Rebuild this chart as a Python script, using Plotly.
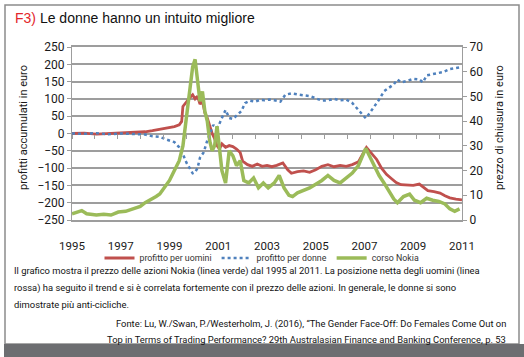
import plotly.graph_objects as go

# ---------------- data ----------------
years_men = [1995.0, 1995.5, 1996.0, 1996.5, 1997.0, 1997.5, 1998.0, 1998.3, 1998.6, 1998.9,
             1999.2, 1999.4, 1999.5, 1999.55, 1999.65, 1999.75, 1999.85, 1999.95, 2000.05, 2000.15,
             2000.25, 2000.35, 2000.45, 2000.55, 2000.65, 2000.75, 2000.85, 2000.95, 2001.05, 2001.15,
             2001.3, 2001.45, 2001.6, 2001.75, 2001.9, 2002.0, 2002.2, 2002.4, 2002.6, 2002.8,
             2003.0, 2003.2, 2003.4, 2003.65, 2003.85, 2004.0, 2004.25, 2004.5, 2004.75, 2005.0,
             2005.25, 2005.5, 2005.75, 2006.0, 2006.25, 2006.5, 2006.75, 2006.9, 2007.0, 2007.08,
             2007.2, 2007.35, 2007.5, 2007.7, 2007.9, 2008.1, 2008.3, 2008.5, 2008.75, 2009.0,
             2009.25, 2009.4, 2009.6, 2009.85, 2010.1, 2010.3, 2010.5, 2010.75, 2011.0]
profit_men = [0, 1, -2, 0, 1, 2, 5, 8, 12, 15,
              20, 25, 35, 78, 88, 95, 105, 112, 100, 108,
              85, 95, 60, 45, 20, 0, -15, -35, -45, -30,
              -40, -35, -38, -45, -55, -80, -90, -95, -88, -95,
              -92, -96, -92, -85, -105, -115, -110, -108, -112, -105,
              -95, -90, -96, -92, -95, -90, -82, -65, -50, -40,
              -50, -62, -75, -100, -118, -130, -142, -148, -150, -150,
              -146, -155, -165, -168, -172, -180, -186, -190, -192]

years_women = [1995.0, 1995.5, 1996.0, 1996.5, 1997.0, 1997.5, 1998.0, 1998.3, 1998.6, 1998.9,
               1999.2, 1999.4, 1999.55, 1999.7, 1999.85, 1999.95, 2000.05, 2000.15, 2000.25, 2000.4,
               2000.55, 2000.7, 2000.8, 2000.9, 2001.0, 2001.15, 2001.3, 2001.45, 2001.6, 2001.8,
               2001.95, 2002.1, 2002.3, 2002.5, 2002.7, 2002.9, 2003.1, 2003.3, 2003.55, 2003.75,
               2004.0, 2004.25, 2004.5, 2004.75, 2005.0, 2005.25, 2005.5, 2005.75, 2006.0, 2006.25,
               2006.5, 2006.7, 2006.9, 2007.05, 2007.2, 2007.4, 2007.6, 2007.8, 2008.0, 2008.2,
               2008.35, 2008.5, 2008.75, 2009.0, 2009.25, 2009.4, 2009.55, 2009.8, 2010.0, 2010.25,
               2010.5, 2010.75, 2011.0]
profit_women = [0, -1, 1, -2, 0, -1, -3, -8, -10, -18,
                -25, -40, -60, -85, -105, -115, -112, -100, -70, -55,
                -20, 10, 25, 15, 20, 45, 68, 45, 42, 55,
                65, 88, 95, 92, 97, 96, 98, 96, 92, 112,
                116, 113, 110, 108, 102, 95, 96, 100, 96, 98,
                88, 72, 55, 44, 58, 78, 98, 122, 132, 142,
                156, 148, 152, 158, 156, 148, 168, 172, 175, 178,
                186, 190, 192]

years_nokia = [1995.0, 1995.2, 1995.4, 1995.6, 1995.8, 1996.0, 1996.3, 1996.6, 1996.9, 1997.2,
               1997.5, 1997.8, 1998.0, 1998.2, 1998.45, 1998.6, 1998.8, 1999.0, 1999.2, 1999.4,
               1999.55, 1999.65, 1999.75, 1999.85, 1999.95, 2000.05, 2000.15, 2000.25, 2000.35, 2000.45,
               2000.55, 2000.65, 2000.75, 2000.85, 2000.95, 2001.05, 2001.15, 2001.3, 2001.45, 2001.6,
               2001.75, 2001.9, 2002.05, 2002.25, 2002.45, 2002.65, 2002.85, 2003.05, 2003.3, 2003.5,
               2003.7, 2003.9, 2004.05, 2004.25, 2004.5, 2004.75, 2005.0, 2005.25, 2005.5, 2005.75,
               2006.0, 2006.25, 2006.5, 2006.75, 2006.9, 2007.05, 2007.2, 2007.4, 2007.6, 2007.8,
               2008.0, 2008.2, 2008.35, 2008.6, 2008.85, 2009.05, 2009.3, 2009.55, 2009.8, 2010.05,
               2010.3, 2010.5, 2010.7, 2010.9]
price_nokia = [2.5, 3.2, 3.8, 2.5, 2.2, 2.0, 2.3, 2.0, 3.2, 3.5,
               4.5, 5.5, 7.0, 8.0, 9.5, 10.5, 13, 16, 20, 24,
               30, 38, 48, 55, 62, 65, 55, 48, 52, 44,
               40, 32, 28, 30, 38, 28, 20, 15, 28, 26,
               22, 24, 16, 15, 17, 13, 15, 13, 15, 18,
               13, 10, 9.5, 11, 12, 13, 14.5, 16, 18, 16,
               15, 17, 19, 22, 26, 29, 26, 22, 18, 15,
               12, 8.5, 7, 9.5, 10.5, 8, 7, 8.8, 8, 7.5,
               6.5, 4.5, 3.5, 4.5]

left_ticks = [-250, -200, -150, -100, -50, 0, 50, 100, 150, 200, 250]
right_ticks = [0, 10, 20, 30, 40, 50, 60, 70]
year_labels = [1995, 1997, 1999, 2001, 2003, 2005, 2007, 2009, 2011]

series_names = ["profitto per uomini", "profitto per donne", "corso Nokia"]
series_colors = ["#c0504d", "#4f81bd", "#9bbb59"]

title_tag = "F3)"
title_text = "Le donne hanno un intuito migliore"
left_title = "profitti accumulati in euro"
right_title = "prezzo di chiusura in euro"
caption_lines = [
    "Il grafico mostra il prezzo delle azioni Nokia (linea verde) dal 1995 al 2011. La posizione netta degli uomini (linea",
    "rossa) ha seguito il trend e si è correlata fortemente con il prezzo delle azioni. In generale, le donne si sono",
    "dimostrate più anti-cicliche.",
]
source_lines = [
    "Fonte: Lu, W./Swan, P./Westerholm, J. (2016), “The Gender Face-Off: Do Females Come Out on",
    "Top in Terms of Trading Performance? 29th Australasian Finance and Banking Conference, p. 53",
]

# ---------------- layout helpers ----------------
W, H = 524, 357
L, R, T, B = 72, 62, 47, 137
PW, PH = W - L - R, H - T - B


def px(x):
    return (x - L) / PW


def py(y):
    return (H - B - y) / PH


COND = "Roboto, Liberation Sans, sans-serif"
REG = "Liberation Sans, Arial, sans-serif"
GRID = "#9d9d9d"
TXT = "#1a1a1a"

fig = go.Figure()
fig.add_trace(go.Scatter(x=years_men, y=profit_men, name=series_names[0], mode="lines",
                         line=dict(color=series_colors[0], width=2.8)))
fig.add_trace(go.Scatter(x=years_women, y=profit_women, name=series_names[1], mode="lines",
                         line=dict(color=series_colors[1], width=2.5, dash="dot")))
fig.add_trace(go.Scatter(x=years_nokia, y=price_nokia, name=series_names[2], mode="lines",
                         yaxis="y2", line=dict(color=series_colors[2], width=3.5)))
# helper trace so the axis drawn along the zero line is rendered
fig.add_trace(go.Scatter(x=[year_labels[0], year_labels[-1]], y=[None, None], xaxis="x2",
                         showlegend=False, hoverinfo="skip", mode="lines"))

n_minor = 17
minor_ticks = [year_labels[0] + k * (year_labels[-1] - year_labels[0]) / n_minor for k in range(n_minor + 1)]

fig.update_layout(
    width=W, height=H,
    margin=dict(l=L, r=R, t=T, b=B, pad=0),
    paper_bgcolor="white", plot_bgcolor="white",
    showlegend=True,
    xaxis=dict(range=[year_labels[0], year_labels[-1]], tickvals=year_labels,
               ticktext=[str(v) for v in year_labels], showgrid=False, zeroline=False,
               ticks="outside", ticklen=14, tickcolor="rgba(0,0,0,0)",
               showline=True, mirror=True, linecolor=GRID, linewidth=1.5,
               tickfont=dict(family=COND, size=11.5, color=TXT)),
    xaxis2=dict(overlaying="x", anchor="free", position=0.5, range=[year_labels[0], year_labels[-1]],
                tickvals=minor_ticks, showticklabels=False, ticks="outside", ticklen=4,
                tickcolor=GRID, tickwidth=1.2, showgrid=False, zeroline=False, showline=False),
    yaxis=dict(range=[left_ticks[0], left_ticks[-1]], tickvals=left_ticks,
               showgrid=True, gridcolor=GRID, gridwidth=1.5, zeroline=False,
               showline=True, linecolor=GRID, linewidth=1.2,
               ticks="outside", ticklen=4, tickcolor=GRID,
               tickfont=dict(family=COND, size=12, color=TXT)),
    yaxis2=dict(overlaying="y", side="right", range=[right_ticks[0], right_ticks[-1]],
                tickvals=right_ticks, showgrid=False, zeroline=False,
                showline=True, linecolor=GRID, linewidth=1.2,
                ticks="outside", ticklen=4, tickcolor=GRID,
                tickfont=dict(family=COND, size=12, color=TXT)),
    legend=dict(orientation="h", x=px(262), xanchor="center", y=py(258), yanchor="middle",
                font=dict(family=COND, size=8.8, color="#333333"), bgcolor="rgba(0,0,0,0)",
                tracegroupgap=0, itemwidth=30),
)

annotations = [
    dict(text=f"<span style='color:#e3262b'>{title_tag}</span> {title_text}",
         x=px(13), y=py(18), xanchor="left", yanchor="middle",
         font=dict(family=REG, size=14, color="#111111")),
    dict(text=left_title, textangle=-90, x=px(23), y=py(128), xanchor="center", yanchor="middle",
         font=dict(family=COND, size=11, color=TXT)),
    dict(text=right_title, textangle=-90, x=px(499), y=py(128), xanchor="center", yanchor="middle",
         font=dict(family=COND, size=11, color=TXT)),
]
for i, line in enumerate(caption_lines):
    annotations.append(dict(text=line, x=px(12), y=py(271 + 16.7 * i), xanchor="left", yanchor="middle",
                            font=dict(family=COND, size=9.4, color="#111111")))
for i, line in enumerate(source_lines):
    annotations.append(dict(text=line, x=px(508), y=py(324 + 15 * i), xanchor="right", yanchor="middle",
                            font=dict(family=COND, size=9.4, color="#111111")))
for a in annotations:
    a.update(xref="paper", yref="paper", showarrow=False)
fig.update_layout(annotations=annotations)

fig.update_layout(shapes=[
    dict(type="rect", xref="paper", yref="paper", x0=px(5), x1=px(519), y0=py(344), y1=py(5),
         line=dict(color="#8c8c8c", width=1.5), fillcolor="rgba(0,0,0,0)", layer="below"),
    dict(type="rect", xref="paper", yref="paper", x0=px(4), x1=px(524), y0=py(357), y1=py(344),
         line=dict(width=0), fillcolor="#6d6e71", layer="below"),
])

fig.write_html("out.html", config={"displayModeBar": False},
               post_script="document.body.style.margin='0';")
